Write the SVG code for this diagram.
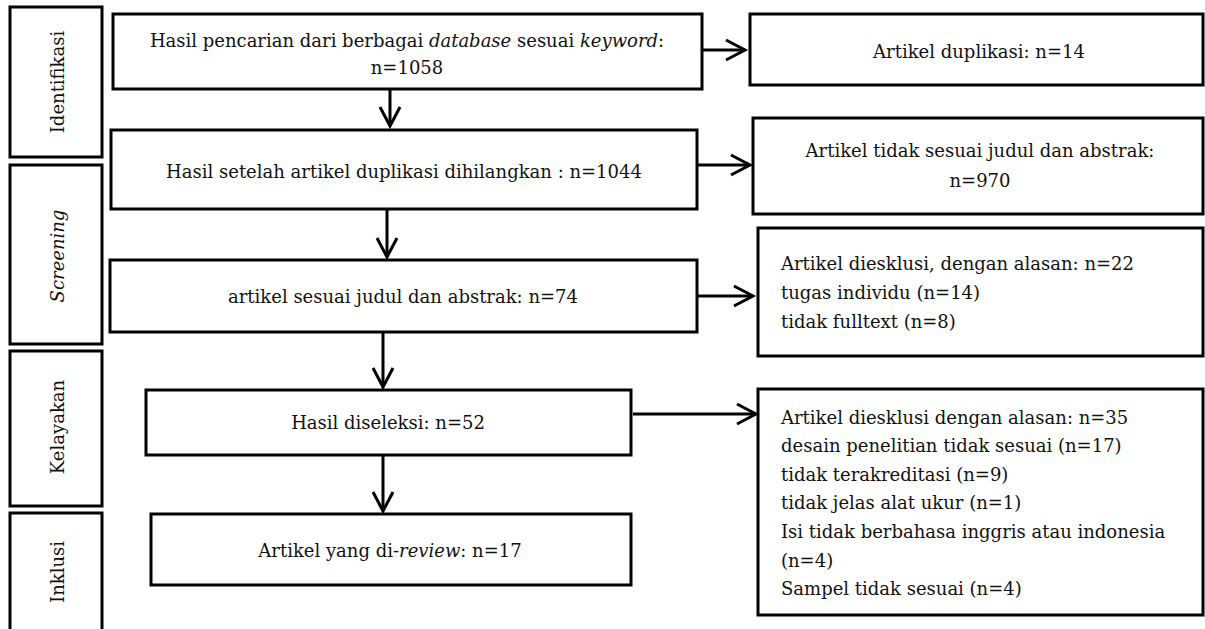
<svg xmlns="http://www.w3.org/2000/svg" width="1205" height="629" viewBox="0 0 1205 629">
<defs>
<style>
.box{fill:#fff;stroke:#000;stroke-width:3}
.t{font-family:"DejaVu Serif","Liberation Serif",serif;font-size:18px;fill:#111}
.c{text-anchor:middle}
.i{font-style:italic}
.ln{stroke:#000;stroke-width:3;fill:none;marker-end:url(#ah)}
</style>
<marker id="ah" markerUnits="userSpaceOnUse" markerWidth="26" markerHeight="26" viewBox="0 0 26 26" refX="21" refY="13" orient="auto">
<path d="M2,3 L21,13 L2,23" fill="none" stroke="#000" stroke-width="3"/>
</marker>
</defs>
<rect width="1205" height="629" fill="#fff"/>

<g id="stage-identifikasi">
<rect class="box" x="10" y="7" width="92" height="150"/>
<text class="t c" transform="translate(64,82) rotate(-90)">Identifikasi</text>
</g>
<g id="stage-screening">
<rect class="box" x="10" y="165" width="92" height="179"/>
<text class="t c i" transform="translate(64,256) rotate(-90)">Screening</text>
</g>
<g id="stage-kelayakan">
<rect class="box" x="10" y="351" width="92" height="155"/>
<text class="t c" transform="translate(64,427) rotate(-90)">Kelayakan</text>
</g>
<g id="stage-inklusi">
<rect class="box" x="10" y="513" width="92" height="120"/>
<text class="t c" transform="translate(64,572) rotate(-90)">Inklusi</text>
</g>

<g id="box1">
<rect class="box" x="113" y="14" width="589" height="75"/>
<text class="t c" x="407" y="47">Hasil pencarian dari berbagai <tspan class="i">database</tspan> sesuai <tspan class="i">keyword</tspan>:</text>
<text class="t c" x="407" y="74">n=1058</text>
</g>
<g id="box2">
<rect class="box" x="111" y="130" width="586" height="79"/>
<text class="t c" x="404" y="178">Hasil setelah artikel duplikasi dihilangkan : n=1044</text>
</g>
<g id="box3">
<rect class="box" x="110" y="260" width="587" height="72"/>
<text class="t c" x="403" y="303">artikel sesuai judul dan abstrak: n=74</text>
</g>
<g id="box4">
<rect class="box" x="146" y="390" width="485" height="65"/>
<text class="t c" x="388" y="429">Hasil diseleksi: n=52</text>
</g>
<g id="box5">
<rect class="box" x="151" y="514" width="480" height="71"/>
<text class="t c" x="390" y="557">Artikel yang di-<tspan class="i">review</tspan>: n=17</text>
</g>

<g id="excl1">
<rect class="box" x="750" y="14" width="453" height="71"/>
<text class="t c" x="979" y="58">Artikel duplikasi: n=14</text>
</g>
<g id="excl2">
<rect class="box" x="753" y="118" width="450" height="96"/>
<text class="t c" x="980" y="157">Artikel tidak sesuai judul dan abstrak:</text>
<text class="t c" x="980" y="187">n=970</text>
</g>
<g id="excl3">
<rect class="box" x="758" y="228" width="445" height="128"/>
<text class="t" x="781" y="270">Artikel diesklusi, dengan alasan: n=22</text>
<text class="t" x="781" y="299">tugas individu (n=14)</text>
<text class="t" x="781" y="328">tidak fulltext (n=8)</text>
</g>
<g id="excl4">
<rect class="box" x="758" y="389" width="445" height="226"/>
<text class="t" x="781" y="424">Artikel diesklusi dengan alasan: n=35</text>
<text class="t" x="781" y="452">desain penelitian tidak sesuai (n=17)</text>
<text class="t" x="781" y="481">tidak terakreditasi (n=9)</text>
<text class="t" x="781" y="509">tidak jelas alat ukur (n=1)</text>
<text class="t" x="781" y="538">Isi tidak berbahasa inggris atau indonesia</text>
<text class="t" x="781" y="567">(n=4)</text>
<text class="t" x="781" y="595">Sampel tidak sesuai (n=4)</text>
</g>

<g id="connectors">
<line class="ln" x1="390" y1="89" x2="390" y2="126"/>
<line class="ln" x1="387" y1="209" x2="387" y2="257"/>
<line class="ln" x1="383" y1="332" x2="383" y2="387"/>
<line class="ln" x1="383" y1="455" x2="383" y2="511"/>
<line class="ln" x1="702" y1="50" x2="745" y2="50"/>
<line class="ln" x1="697" y1="165" x2="750" y2="165"/>
<line class="ln" x1="697" y1="296" x2="753" y2="296"/>
<line class="ln" x1="633" y1="414" x2="756" y2="414"/>
</g>
</svg>
